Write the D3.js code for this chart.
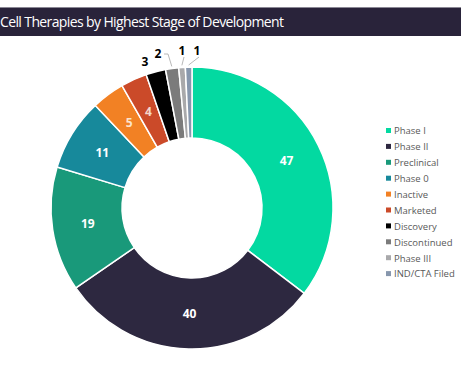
<!DOCTYPE html>
<html lang="en">
<head>
<meta charset="UTF-8">
<title>Cell Therapies by Highest Stage of Development</title>
<script src="https://cdnjs.cloudflare.com/ajax/libs/d3/7.8.5/d3.min.js"></script>
<style>
    body { margin: 0; background: #fff; }
    svg { display: block; font-family: "Open Sans", "Noto Sans", sans-serif; }
</style>
</head>
<body>
<div id="chart"></div>
<script>
// data, clockwise from 12 o'clock
const stages = ["Phase I", "Phase II", "Preclinical", "Phase 0", "Inactive", "Marketed",
                "Discovery", "Discontinued", "Phase III", "IND/CTA Filed"];
const counts = [47, 40, 19, 11, 5, 4, 3, 2, 1, 1];
const colors = ["#03d9a1", "#2d2840", "#19997a", "#17899b", "#f28124", "#cb4a29",
                "#000000", "#7b7b7b", "#a9a9ab", "#8797ad"];

const width = 461, height = 385;
const cx = 192, cy = 208, outerR = 141, innerR = 70;

const svg = d3.select("#chart").append("svg")
    .attr("width", width)
    .attr("height", height);

// title band
svg.append("rect").attr("x", 0).attr("y", 7).attr("width", width).attr("height", 29)
    .attr("fill", "#29233a");
svg.append("line").attr("x1", 0).attr("x2", width).attr("y1", 7.5).attr("y2", 7.5)
    .attr("stroke", "#8a8794").attr("stroke-width", 1);
svg.append("text")
    .attr("x", 0).attr("y", 27)
    .attr("fill", "#fff")
    .attr("font-size", 14)
    .attr("textLength", 284)
    .text("Cell Therapies by Highest Stage of Development");

const pie = d3.pie().sort(null).value(d => d)(counts);
const arc = d3.arc().innerRadius(innerR).outerRadius(outerR);
const mid = d3.arc().innerRadius((innerR + outerR) / 2).outerRadius((innerR + outerR) / 2);

const g = svg.append("g").attr("transform", `translate(${cx},${cy})`);

g.selectAll("path")
    .data(pie)
    .join("path")
    .attr("d", arc)
    .attr("fill", (d, i) => colors[i])
    .attr("stroke", "#fff")
    .attr("stroke-width", 1.5);

// labels inside the big slices
g.selectAll("text.inner")
    .data(pie.filter(d => d.value >= 4))
    .join("text")
    .attr("class", "inner")
    .attr("transform", d => `translate(${mid.centroid(d)})`)
    .attr("text-anchor", "middle")
    .attr("dy", "0.35em")
    .attr("fill", (d) => d.value === 5 ? "#fbe3cc" : (d.value === 4 ? "#f4d6cc" : "#fff"))
    .attr("font-size", 12)
    .attr("font-weight", "bold")
    .text(d => d.value);

// small slices: labels outside, with leader lines
const smalls = pie.filter(d => d.value < 4);
const labelPos = [[-47, -142], [-34, -150], [-10, -153], [5, -153]];
smalls.forEach((d, k) => {
    const a = (d.startAngle + d.endAngle) / 2;
    const [lx, ly] = labelPos[k];
    if (k > 0) {
        const ex = Math.sin(a) * (outerR + 2), ey = -Math.cos(a) * (outerR + 2);
        const pts = k === 1
            ? [[lx + 6, ly - 4], [lx + 10, ly - 4], [ex, ey]]
            : [[lx + 2, ly + 2], [ex, ey]];
        g.append("path")
            .attr("d", d3.line()(pts))
            .attr("fill", "none")
            .attr("stroke", "#a6a6a6")
            .attr("stroke-width", 0.8);
    }
    g.append("text")
        .attr("x", lx).attr("y", ly)
        .attr("text-anchor", "middle")
        .attr("fill", "#000")
        .attr("font-size", 12)
        .attr("font-weight", "bold")
        .text(d.value);
});

// legend
const legend = svg.append("g").attr("transform", "translate(386,131)");
const rows = legend.selectAll("g")
    .data(stages)
    .join("g")
    .attr("transform", (d, i) => `translate(0,${i * 15.9})`);
rows.append("rect")
    .attr("x", 0).attr("y", -3)
    .attr("width", 5).attr("height", 5)
    .attr("fill", (d, i) => colors[i]);
rows.append("text")
    .attr("x", 8).attr("y", 0)
    .attr("dy", "0.35em")
    .attr("fill", "#595959")
    .attr("font-size", 9.5)
    .text(d => d);
</script>
</body>
</html>
